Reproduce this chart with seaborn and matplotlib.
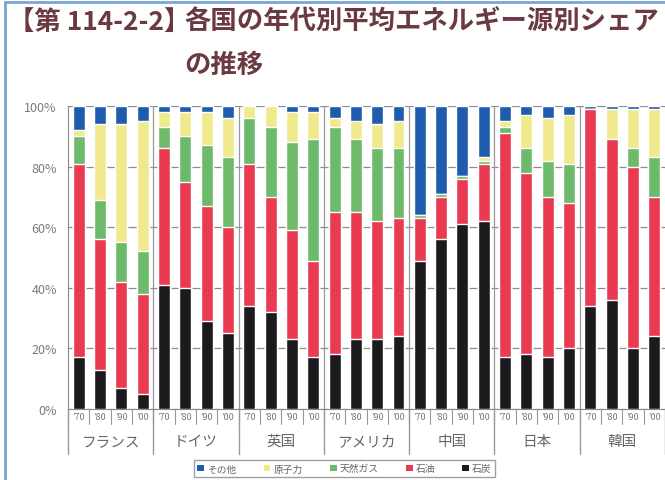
import numpy as np
import pandas as pd
import seaborn as sns
import matplotlib.pyplot as plt
from matplotlib.patches import Patch
from matplotlib.lines import Line2D
import matplotlib.transforms as mtransforms

sns.set_style("white")
plt.rcParams['font.family'] = ['Noto Sans CJK JP', 'DejaVu Sans']

countries = ['フランス', 'ドイツ', '英国', 'アメリカ', '中国', '日本', '韓国']
decades = ['’70', '’80', '’90', '’00']

# shares (%) per bar, country by country, decades '70 '80 '90 '00
coal = [17, 13, 7, 5,   41, 40, 29, 25,   34, 32, 23, 17,   18, 23, 23, 24,
        49, 56, 61, 62,   17, 18, 17, 20,   34, 36, 20, 24]
oil = [64, 43, 35, 33,   45, 35, 38, 35,   47, 38, 36, 32,   47, 42, 39, 39,
       14, 14, 15, 19,   74, 60, 53, 48,   65, 53, 60, 46]
gas = [9, 13, 13, 14,   7, 15, 20, 23,   15, 23, 29, 40,   28, 24, 24, 23,
       1, 1, 1, 1,   2, 8, 12, 13,   0, 0, 6, 13]
nuclear = [2, 25, 39, 43,   5, 8, 11, 13,   4, 7, 10, 9,   3, 6, 8, 9,
           0, 0, 0, 1,   2, 11, 14, 16,   0, 10, 13, 16]
other = [8, 6, 6, 5,   2, 2, 2, 4,   0, 0, 2, 2,   4, 5, 6, 5,
         36, 29, 23, 17,   5, 3, 4, 3,   1, 1, 1, 1]

series = ['その他', '原子力', '天然ガス', '石油', '石炭']
colors = {'その他': '#1f5cae', '原子力': '#efeb8c', '天然ガス': '#6cba6a',
          '石油': '#ea3a52', '石炭': '#1c1a1c'}

n = len(coal)
df = pd.DataFrame({'bar': np.arange(n), '石炭': coal, '石油': oil,
                   '天然ガス': gas, '原子力': nuclear, 'その他': other})
# cumulative tops, drawn from the tallest down
df['石油'] = df['石炭'] + df['石油']
df['天然ガス'] = df['石油'] + df['天然ガス']
df['原子力'] = df['天然ガス'] + df['原子力']
df['その他'] = df['原子力'] + df['その他']

fig = plt.figure(figsize=(6.65, 4.81), dpi=100)
ax = fig.add_axes([0.1023, 0.1476, 0.8977, 0.63])

for s in series:
    sns.barplot(data=df, x='bar', y=s, color=colors[s], width=0.56,
                saturation=1, ax=ax, zorder=3)

ax.set_xlim(-0.5, n - 0.5)
ax.set_ylim(0, 100)
ax.set_yticks([0, 20, 40, 60, 80, 100])
ax.set_yticklabels(['0%', '20%', '40%', '60%', '80%', '100%'],
                   fontsize=9, color='#7a7a7a')
ax.tick_params(axis='y', length=3, color='#888888', pad=5)
ax.yaxis.grid(True, color='#8a8a9a', lw=0.9, zorder=0)
ax.set_xlabel('')
ax.set_ylabel('')
ax.set_xticks([])
for side in ['top', 'right']:
    ax.spines[side].set_visible(False)
ax.spines['left'].set_color('#888888')
ax.spines['bottom'].set_color('#888888')

trans = mtransforms.blended_transform_factory(ax.transData, ax.transAxes)
# vertical lines between countries inside the plot
for g in range(1, len(countries)):
    ax.axvline(g * 4 - 0.5, color='#999999', lw=0.9, zorder=1)

# decade labels and separators under the axis
for i in range(n):
    ax.text(i, -0.025, decades[i % 4], transform=trans, ha='center',
            va='center', fontsize=6.5, color='#777777')
    ax.plot([i - 0.5, i - 0.5], [0, -0.05], transform=trans, color='#999999',
            lw=0.8, clip_on=False)
for g in range(len(countries) + 1):
    ax.plot([g * 4 - 0.5, g * 4 - 0.5], [0, -0.15], transform=trans,
            color='#999999', lw=1.0, clip_on=False)
for g, c in enumerate(countries):
    ax.text(g * 4 + 1.5, -0.105, c, transform=trans, ha='center', va='center',
            fontsize=10.5, color='#666666')

handles = [Patch(facecolor=colors[s], edgecolor='none', label=s) for s in series]
leg = fig.legend(handles=handles, loc='center', bbox_to_anchor=(0.518, 0.024),
                 ncol=5, fontsize=7, frameon=True, fancybox=False,
                 handlelength=0.7, handleheight=0.7, handletextpad=0.3,
                 columnspacing=2.8, borderpad=0.35)
leg.get_frame().set_edgecolor('#888888')
leg.get_frame().set_linewidth(1.0)
for t in leg.get_texts():
    t.set_color('#666666')

# title
fig.text(0.012, 0.953, '【第 114-2-2】', fontsize=19, color='#6a3a40',
         ha='left', va='center', fontweight='bold')
fig.text(0.277, 0.953, '各国の年代別平均エネルギー源別シェア', fontsize=19,
         color='#6a3a40', ha='left', va='center', fontweight='bold')
fig.text(0.277, 0.865, 'の推移', fontsize=19, color='#6a3a40',
         ha='left', va='center', fontweight='bold')

# outer frame
fig.add_artist(Line2D([0.007, 0.007], [0, 0.993], color='#7aa6d6', lw=2))
fig.add_artist(Line2D([0.007, 1.0], [0.993, 0.993], color='#7aa6d6', lw=2))

fig.savefig('out.png', dpi=100)
